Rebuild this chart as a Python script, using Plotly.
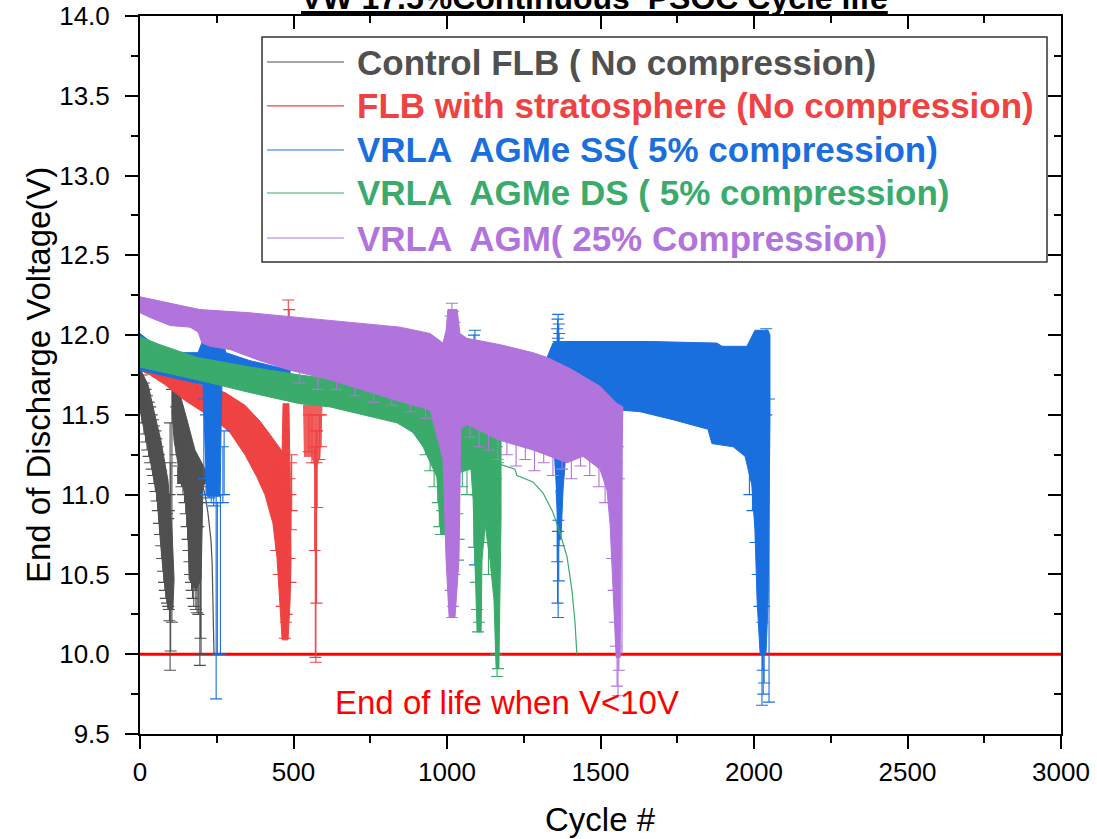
import plotly.graph_objects as go

# ---------------- data ----------------
GRAY, RED, BLUE, GREEN, PURPLE = "#505050", "#ef4242", "#1a6fdf", "#3aab6b", "#b074dc"

series_names = ["Control FLB ( No compression)",
                "FLB with stratosphere (No compression)",
                "VRLA  AGMe SS( 5% compression)",
                "VRLA  AGMe DS ( 5% compression)",
                "VRLA  AGM( 25% Compression)"]

# Control FLB - envelope of the dense error-bar bands
gray_a_cycle = [0, 26, 52, 68, 91, 104, 111, 107, 91, 78, 68, 55, 33, 13, 0]
gray_a_v = [11.79, 11.69, 11.47, 11.34, 11.09, 10.78, 10.47, 10.28, 10.28, 10.47, 10.67, 10.99, 11.22, 11.41, 11.53]
gray_b_cycle = [104, 130, 153, 179, 212, 221, 205, 202, 199, 182, 160, 156, 147, 124, 111, 104]
gray_b_v = [11.69, 11.63, 11.47, 11.28, 11.16, 11.10, 11.05, 10.67, 10.47, 10.40, 10.47, 10.78, 10.99, 11.19, 11.34, 11.53]
gray_c_cycle = [121, 195, 221, 212, 121]
gray_c_v = [11.17, 11.16, 11.10, 11.07, 11.07]
gray_tail_cycle = [202, 212, 221, 231, 235, 238, 241]
gray_tail_v = [11.07, 11.00, 10.89, 10.72, 10.57, 10.32, 10.00]
gray_eb_cycle = [6, 13, 18, 23, 28, 33, 38, 42, 46, 50, 54, 58, 62, 65, 69, 72, 75, 78, 81, 84, 88, 92, 94, 96, 98, 100, 104,
                 118, 125, 130, 135, 140, 145, 149, 152, 155, 158, 161, 163, 166, 168, 171, 175, 182, 186, 190, 195, 197, 199]
gray_eb_lo = [11.45, 11.38, 11.33, 11.28, 11.24, 11.20, 11.16, 11.12, 11.07, 11.02, 10.96, 10.90, 10.82, 10.75, 10.68, 10.60, 10.52,
              10.45, 10.40, 10.35, 10.32, 10.30, 10.28, 10.21, 9.90, 10.02, 10.20,
              11.25, 11.18, 11.12, 11.05, 11.00, 10.95, 10.88, 10.80, 10.72, 10.65, 10.58, 10.50, 10.45, 10.40, 10.35, 10.30, 10.28,
              10.26, 10.25, 9.93, 10.10, 10.00]
gray_eb_hi = [11.75, 11.70, 11.66, 11.62, 11.58, 11.55, 11.50, 11.47, 11.43, 11.40, 11.35, 11.30, 11.25, 11.20, 11.15, 11.10, 11.05,
              11.00, 10.95, 10.90, 10.88, 10.85, 10.90, 11.00, 11.45, 11.20, 11.66,
              11.55, 11.50, 11.46, 11.42, 11.38, 11.35, 11.30, 11.25, 11.20, 11.15, 11.10, 11.05, 11.00, 10.95, 10.90, 10.85, 10.80,
              10.80, 10.80, 11.05, 10.95, 11.00]

# FLB with stratosphere
red_a_cycle = [0, 98, 195, 277, 342, 391, 430, 463, 466, 485, 489, 492, 489, 482, 463, 456, 446, 433, 407, 381, 342, 293, 244, 195, 147, 81, 33, 0]
red_a_v = [11.83, 11.77, 11.69, 11.64, 11.56, 11.46, 11.36, 11.27, 11.57, 11.57, 11.09, 10.59, 10.34, 10.09, 10.09, 10.34, 10.61, 10.82, 11.00, 11.11, 11.25, 11.39, 11.47, 11.53, 11.59, 11.69, 11.75, 11.78]
red_b_cycle = [531, 593, 586, 575, 571, 560, 534]
red_b_v = [11.56, 11.56, 11.24, 11.17, 11.17, 11.24, 11.24]
red_eb_cycle = [483, 486, 472, 475, 478, 490, 487, 492, 494, 462, 452, 443,
                573, 571, 575, 569, 577, 560, 585, 550, 590]
red_eb_lo = [11.60, 11.70, 10.10, 10.20, 10.25, 10.45, 10.60, 10.78, 10.90, 10.30, 10.50, 10.65,
             9.95, 9.98, 10.32, 10.65, 10.92, 11.20, 11.22, 11.27, 11.30]
red_eb_hi = [12.22, 12.16, 11.00, 10.90, 11.00, 11.00, 11.10, 11.20, 11.25, 11.10, 11.15, 11.20,
             11.40, 11.30, 11.20, 11.30, 11.40, 11.50, 11.50, 11.50, 11.50]

# VRLA AGMe SS
blue_a_cycle = [0, 33, 81, 130, 189, 205, 267, 280, 358, 489, 489, 267, 264, 261, 218, 212, 205, 0]
blue_a_v = [12.01, 11.96, 11.91, 11.89, 11.89, 11.97, 11.97, 11.89, 11.84, 11.78, 11.63, 11.70, 11.41, 10.99, 10.99, 11.34, 11.69, 11.78]
blue_b_cycle = [1326, 1345, 1368, 1661, 1879, 1896, 1977, 1987, 2003, 2046, 2052, 2052, 2049, 2046, 2039, 2020, 2010,
                2003, 1993, 1971, 1932, 1863, 1850, 1736, 1629, 1564, 1466, 1368, 1326]
blue_b_v = [11.86, 11.95, 11.96, 11.96, 11.95, 11.93, 11.93, 11.97, 12.03, 12.03, 12.00, 11.47, 10.84, 10.34, 10.00, 10.00, 10.34,
            10.78, 11.06, 11.24, 11.30, 11.32, 11.41, 11.47, 11.52, 11.53, 11.59, 11.72, 11.81]
blue_c_cycle = [1345, 1391, 1378, 1371, 1365, 1355]
blue_c_v = [11.36, 11.36, 11.03, 10.72, 10.72, 11.03]
blue_eb_cycle = [248, 252, 262, 208, 215, 225, 232, 240, 270, 274, 1091, 1088, 1362, 1360, 1364, 1359, 1365, 1361, 1363,
                 1985, 1995, 2005, 2012, 2018, 2026, 2030, 2033, 2028, 2040, 2049]
blue_eb_lo = [9.72, 10.00, 10.00, 11.10, 11.00, 10.98, 10.95, 10.93, 10.95, 11.00, 10.56, 10.67, 10.23, 10.32, 10.46, 10.58, 10.68, 10.77, 10.84,
              11.00, 10.90, 10.70, 10.50, 10.30, 9.68, 9.75, 9.82, 9.90, 11.50, 9.70]
blue_eb_hi = [11.00, 10.95, 11.00, 11.60, 11.50, 11.60, 11.50, 11.40, 11.30, 11.40, 12.03, 12.00, 12.13, 12.10, 12.07, 12.04, 12.01, 11.98, 11.96,
              11.50, 11.40, 11.30, 11.20, 11.10, 10.60, 10.40, 10.30, 10.20, 12.04, 11.60]

# VRLA AGMe DS
green_a_cycle = [0, 65, 186, 358, 521, 684, 847, 1010, 1173, 1176, 1176, 1173, 1169, 1160, 1153, 1140, 1124, 1114, 1111,
                 1098, 1091, 1085, 1078, 1042, 1003, 996, 980, 967, 922, 889, 837, 619, 521, 358, 186, 0]
green_a_v = [11.99, 11.94, 11.86, 11.80, 11.75, 11.71, 11.64, 11.56, 11.44, 11.34, 10.84, 10.34, 9.91, 9.91, 10.34, 10.59, 10.81, 10.59, 10.14,
             10.14, 10.59, 10.97, 11.16, 11.14, 11.10, 10.75, 10.75, 11.11, 11.30, 11.39, 11.45, 11.55, 11.57, 11.64, 11.72, 11.80]
green_tail_cycle = [1173, 1221, 1228, 1280, 1313, 1345, 1368, 1391, 1407, 1417, 1423]
green_tail_v = [11.19, 11.16, 11.12, 11.08, 11.01, 10.89, 10.76, 10.61, 10.40, 10.20, 10.00]
green_eb_cycle = [930, 945, 958, 970, 975, 980, 985, 1036, 1038, 1034, 1050, 1065, 1101, 1104, 1098, 1094, 1120, 1135, 1163, 1166, 1160]
green_eb_lo = [11.25, 11.15, 11.05, 10.95, 10.80, 10.75, 10.90, 10.59, 10.72, 10.88, 11.05, 11.00, 10.14, 10.20, 10.28, 10.45, 10.70, 10.50,
               9.86, 9.91, 10.00]
green_eb_hi = [11.60, 11.55, 11.50, 11.35, 11.45, 11.50, 11.40, 11.40, 11.30, 11.25, 11.35, 11.30, 11.20, 11.10, 11.00, 11.00, 11.20, 11.10,
               11.30, 11.20, 11.10]

# VRLA AGM 25%
purple_a_cycle = [0, 98, 195, 358, 521, 684, 847, 945, 987, 997, 1003, 1033, 1042, 1065, 1173, 1280, 1326, 1401, 1498, 1554, 1573,
                  1570, 1567, 1564, 1551, 1541, 1531, 1521, 1498, 1443, 1391, 1280, 1173, 1065, 1045, 1039, 1026, 1007, 997, 987,
                  945, 837, 619, 489, 391, 293, 228, 202, 189, 163, 98, 33, 0]
purple_a_v = [12.24, 12.20, 12.16, 12.14, 12.11, 12.08, 12.05, 12.01, 11.95, 12.03, 12.16, 12.16, 12.01, 11.98, 11.94, 11.89, 11.86, 11.79, 11.68, 11.57, 11.55,
              11.28, 10.65, 9.98, 9.98, 10.40, 10.82, 11.03, 11.16, 11.24, 11.20, 11.28, 11.34, 11.44, 11.41, 10.59, 10.23, 10.23, 10.59, 11.22,
              11.53, 11.59, 11.72, 11.78, 11.84, 11.91, 11.93, 11.95, 12.02, 12.05, 12.06, 12.11, 12.14]
purple_tail_cycle = [1570, 1570]
purple_tail_v = [11.55, 10.00]
purple_eb_cycle = [1016, 1020, 1012, 1024, 1557, 1554, 1560, 1550, 1547, 1543, 1538,
                   1075, 1105, 1135, 1165, 1195, 1225, 1255, 1285, 1315, 1345, 1375, 1405, 1435, 1465, 1495, 1515,
                   520, 580, 640, 700, 760, 820, 880, 930]
purple_eb_lo = [10.23, 10.30, 10.40, 10.50, 9.74, 9.80, 9.90, 10.05, 10.20, 10.40, 10.60,
                11.36, 11.30, 11.28, 11.22, 11.25, 11.18, 11.22, 11.15, 11.20, 11.12, 11.16, 11.10, 11.18, 11.12, 11.05, 10.95,
                11.70, 11.66, 11.66, 11.62, 11.58, 11.56, 11.52, 11.48]
purple_eb_hi = [12.20, 12.15, 12.12, 12.08, 11.30, 11.20, 11.10, 11.00, 11.00, 11.10, 11.20,
                11.70, 11.65, 11.62, 11.58, 11.58, 11.55, 11.55, 11.50, 11.50, 11.48, 11.45, 11.45, 11.42, 11.40, 11.35, 11.30,
                12.00, 11.98, 11.96, 11.94, 11.90, 11.88, 11.86, 11.84]

eol_cycle = [0, 3000]
eol_v = [10.0, 10.0]

x_ticks = [0, 500, 1000, 1500, 2000, 2500, 3000]
y_ticks = [9.5, 10.0, 10.5, 11.0, 11.5, 12.0, 12.5, 13.0, 13.5, 14.0]

# ---------------- figure ----------------
FONT = "Liberation Sans, Arial, sans-serif"
fig = go.Figure()

fig.add_trace(go.Scatter(x=eol_cycle, y=eol_v, mode="lines", line=dict(color="#ff0000", width=3),
                         showlegend=False, hoverinfo="skip", cliponaxis=False))


def band(xs, ys, color, opacity=1.0):
    fig.add_trace(go.Scatter(x=xs, y=ys, mode="lines", fill="toself", fillcolor=color,
                             line=dict(color=color, width=1), opacity=opacity,
                             showlegend=False, hoverinfo="skip"))


def line(xs, ys, color):
    fig.add_trace(go.Scatter(x=xs, y=ys, mode="lines", line=dict(color=color, width=1.2),
                             showlegend=False, hoverinfo="skip"))


def ebars(xs, lo, hi, color):
    mid = [(a + b) / 2 for a, b in zip(lo, hi)]
    half = [(b - a) / 2 for a, b in zip(lo, hi)]
    fig.add_trace(go.Scatter(x=xs, y=mid, mode="markers", marker=dict(size=1, color="rgba(0,0,0,0)"),
                             error_y=dict(type="data", array=half, symmetric=True, visible=True,
                                          width=6, thickness=1.1, color=color),
                             showlegend=False, hoverinfo="skip"))


band(gray_a_cycle, gray_a_v, GRAY)
band(gray_b_cycle, gray_b_v, GRAY)
band(gray_c_cycle, gray_c_v, GRAY)
line(gray_tail_cycle, gray_tail_v, GRAY)
ebars(gray_eb_cycle, gray_eb_lo, gray_eb_hi, GRAY)

band(red_a_cycle, red_a_v, RED)
band(red_b_cycle, red_b_v, RED, 0.85)
ebars(red_eb_cycle, red_eb_lo, red_eb_hi, RED)

band(blue_a_cycle, blue_a_v, BLUE)
band(blue_b_cycle, blue_b_v, BLUE)
band(blue_c_cycle, blue_c_v, BLUE)
ebars(blue_eb_cycle, blue_eb_lo, blue_eb_hi, BLUE)

band(green_a_cycle, green_a_v, GREEN)
line(green_tail_cycle, green_tail_v, GREEN)
ebars(green_eb_cycle, green_eb_lo, green_eb_hi, GREEN)

band(purple_a_cycle, purple_a_v, PURPLE)
line(purple_tail_cycle, purple_tail_v, PURPLE)
ebars(purple_eb_cycle, purple_eb_lo, purple_eb_hi, PURPLE)

# invisible trace to hold the mirrored (inside-tick) axes
fig.add_trace(go.Scatter(x=[0], y=[9.5], xaxis="x2", yaxis="y2", mode="markers",
                         marker=dict(size=1, color="rgba(0,0,0,0)"), showlegend=False, hoverinfo="skip"))

axis_common = dict(showgrid=False, zeroline=False, showline=True, linecolor="black", linewidth=2,
                   tickcolor="black", tickwidth=2, ticklen=13, automargin=False)

fig.update_layout(
    width=1097, height=839,
    margin=dict(l=140, r=36, t=16, b=105, autoexpand=False),
    paper_bgcolor="white", plot_bgcolor="white",
    showlegend=False,
    font=dict(family=FONT, color="black"),
    xaxis=dict(range=[0, 3000], tickvals=x_ticks, ticktext=[str(v) for v in x_ticks], ticks="outside",
               tickfont=dict(size=26, family=FONT), ticklabelstandoff=1,
               minor=dict(ticks="outside", ticklen=7, tickwidth=2, dtick=250, tickcolor="black", showgrid=False),
               **axis_common),
    yaxis=dict(range=[9.5, 14.0], tickvals=y_ticks, ticktext=[f"{v:.1f}" for v in y_ticks], ticks="outside",
               tickfont=dict(size=26, family=FONT), ticklabelstandoff=10,
               minor=dict(ticks="outside", ticklen=7, tickwidth=2, dtick=0.25, tickcolor="black", showgrid=False),
               **axis_common),
    xaxis2=dict(range=[0, 3000], overlaying="x", side="top", anchor="y", tickvals=x_ticks, ticks="inside",
                showticklabels=False,
                minor=dict(ticks="inside", ticklen=7, tickwidth=2, dtick=250, tickcolor="black", showgrid=False),
                **axis_common),
    yaxis2=dict(range=[9.5, 14.0], overlaying="y", side="right", anchor="x", tickvals=y_ticks, ticks="inside",
                showticklabels=False, layer="below traces",
                minor=dict(ticks="inside", ticklen=7, tickwidth=2, dtick=0.25, tickcolor="black", showgrid=False),
                **axis_common),
)

# title (partly cut off at the top as in the original)
fig.add_annotation(xref="paper", yref="paper", x=0.494, y=1.0, xanchor="center", yanchor="bottom", yshift=-2,
                   text="<b><u>VW 17.5%Continuous&nbsp; PSOC Cycle life</u></b>", showarrow=False,
                   font=dict(size=32, family=FONT, color="black"))
# axis titles
fig.add_annotation(xref="paper", yref="paper", x=0.5, y=-0.1184, xanchor="center", yanchor="middle",
                   text="Cycle #", showarrow=False, font=dict(size=33, family=FONT, color="black"))
fig.add_annotation(xref="paper", yref="paper", x=-0.1107, y=0.5, xanchor="center", yanchor="middle",
                   text="End of Discharge Voltage(V)", textangle=-90, showarrow=False,
                   font=dict(size=33, family=FONT, color="black"))
# end-of-life note
fig.add_annotation(xref="paper", yref="paper", x=0.3985, y=0.0432, xanchor="center", yanchor="middle",
                   text="End of life when V<10V", showarrow=False, font=dict(size=33, family=FONT, color="#ff0000"))

# hand-drawn legend box
fig.add_shape(type="rect", xref="paper", yref="paper", x0=0.1325, x1=0.9848, y0=0.6574, y1=0.9708,
              line=dict(color="#333333", width=1.5), fillcolor="white", layer="above")
legend_colors = [GRAY, RED, BLUE, GREEN, PURPLE]
legend_rows = [0.9359, 0.8747, 0.8134, 0.7535, 0.6908]
for name, col, yy in zip(series_names, legend_colors, legend_rows):
    fig.add_shape(type="line", xref="paper", yref="paper", x0=0.1379, x1=0.2215, y0=yy, y1=yy,
                  line=dict(color=col, width=1.2), layer="above")
    fig.add_annotation(xref="paper", yref="paper", x=0.2334, y=yy, xanchor="left", yanchor="middle",
                       text=f"<b>{name}</b>", showarrow=False, font=dict(size=35, family=FONT, color=col))

fig.write_html("out.html")
